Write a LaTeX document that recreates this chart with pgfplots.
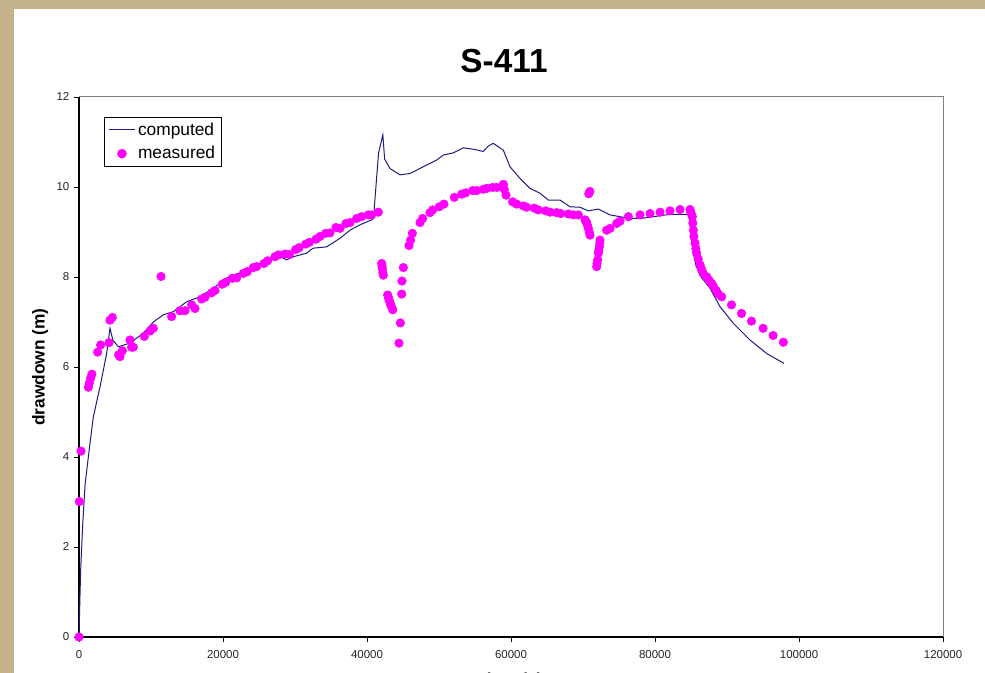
\documentclass[border=0pt]{standalone}
\usepackage{pgfplots}
\pgfplotsset{compat=1.18}
\usepackage{fontspec}
\setmainfont{Liberation Sans}
\definecolor{tanbg}{RGB}{196,178,140}
\definecolor{navyline}{RGB}{30,30,130}
\definecolor{magdot}{RGB}{255,0,255}
\pgfplotsset{
  lineleg/.style={legend image code/.code={\draw[##1] (0cm,0cm) -- (0.68cm,0cm);}},
  dotleg/.style={legend image code/.code={\draw[mark repeat=2, mark phase=2, ##1] plot coordinates {(0cm,0cm) (0.34cm,0cm) (0.68cm,0cm)};}},
}
\begin{document}
\begin{tikzpicture}
\path[use as bounding box, clip] (0,0) rectangle (738.75pt,504.75pt);
\fill[tanbg] (0,0) rectangle (738.75pt,504.75pt);
\fill[white] (10.5pt,0) rectangle (738.75pt,498pt);
\node[font=\bfseries\fontsize{25}{30}\selectfont, inner sep=0pt, anchor=base] at (378pt,450pt) {S-411};
\begin{axis}[
  at={(59.25pt,27pt)}, anchor=south west,
  scale only axis, width=648pt, height=405pt,
  xmin=0, xmax=120000, ymin=0, ymax=12,
  xtick={0,20000,...,120000}, ytick={0,2,...,12},
  scaled x ticks=false,
  /pgf/number format/.cd, fixed, set thousands separator={}, assume math mode=true,
  /pgfplots/.cd,
  tick pos=left, tick align=outside, major tick length=3.75pt,
  tick style={black, line width=0.6pt},
  ticklabel style={font=\fontsize{8.6}{10}\selectfont, text=black!85},
  xticklabel style={yshift=-2.5pt},
  axis line style={draw=gray, line width=0.75pt},
  clip=false,
  xlabel={time (s)}, ylabel={drawdown (m)},
  xlabel style={at={(rel axis cs:0.501,-0.0665)}, anchor=north, inner sep=0pt, font=\bfseries\fontsize{13}{15}\selectfont},
  ylabel style={at={(rel axis cs:-0.0451,0.5)}, anchor=center, inner sep=0pt, font=\bfseries\fontsize{13}{15}\selectfont},
  legend style={at={(0.029,0.963)}, anchor=north west, draw=black, line width=0.75pt,
    font=\fontsize{13}{15.6}\selectfont, inner xsep=3pt, inner ysep=1.8pt, row sep=3pt,
    cells={anchor=west}},
]
\draw[black, line width=1.1pt] (rel axis cs:0,1) -- (rel axis cs:0,0) -- (rel axis cs:1,0);
\addplot[navyline, line width=0.75pt, mark=none, lineleg] table {
x y
0 0
150 1.0
236 1.5
514 2.5
850 3.4
1530 4.31
1990 4.89
2920 5.56
3840 6.30
4306 6.86
4700 6.60
5460 6.45
7080 6.53
8930 6.75
10320 7.00
11710 7.16
13100 7.23
14950 7.45
16800 7.56
18650 7.75
20510 7.98
22360 8.09
24170 8.23
26070 8.34
27460 8.49
28840 8.38
29770 8.45
31620 8.53
32500 8.64
34400 8.67
36250 8.86
37640 9.04
39030 9.16
40650 9.27
40900 9.30
41600 10.75
42200 11.16
42450 10.62
43190 10.41
44580 10.27
45970 10.30
47820 10.45
49680 10.60
50600 10.71
52000 10.76
53380 10.87
54760 10.84
56150 10.79
56850 10.91
57540 10.97
58930 10.82
59860 10.45
61250 10.19
62640 9.97
64030 9.86
65180 9.71
66800 9.71
68190 9.56
69580 9.55
70740 9.47
72130 9.51
73750 9.38
75140 9.34
76530 9.30
78000 9.30
82000 9.39
84630 9.39
84800 9.40
85000 8.95
85300 8.55
85700 8.25
86300 8.02
87000 7.88
87640 7.75
89030 7.34
90880 6.97
93190 6.60
95510 6.30
97920 6.08
};
\addlegendentry{computed}
\addplot[only marks, mark=*, mark size=3.2pt, color=magdot, mark options={draw=magdot, fill=magdot}, dotleg] table {
x y
0 0
50 3.01
280 4.13
1300 5.55
1430 5.64
1620 5.75
1800 5.84
2590 6.33
3010 6.49
4170 6.54
4306 7.04
4630 7.10
5510 6.27
5690 6.23
6020 6.36
7080 6.60
7310 6.44
7540 6.44
9070 6.68
9860 6.80
10320 6.86
11390 8.01
12870 7.12
14030 7.25
14720 7.25
15650 7.38
16110 7.30
17040 7.51
17500 7.55
18430 7.65
18890 7.70
19900 7.84
20370 7.88
21300 7.97
21900 7.98
22820 8.08
23380 8.12
24210 8.21
24680 8.23
25690 8.30
26200 8.36
27220 8.45
27690 8.49
28610 8.51
29210 8.50
30090 8.61
30560 8.65
31480 8.73
31990 8.77
32920 8.84
33470 8.90
34260 8.97
34860 8.98
35690 9.10
36250 9.08
37080 9.19
37640 9.21
38570 9.30
39260 9.34
40180 9.38
40650 9.38
41570 9.44
42040 8.30
42090 8.25
42130 8.19
42200 8.10
42270 8.04
42870 7.60
42960 7.55
43060 7.49
43180 7.44
43290 7.38
43430 7.33
43570 7.27
44440 6.53
44630 6.98
44820 7.62
44860 7.91
45050 8.21
45830 8.70
46060 8.82
46300 8.97
47360 9.21
47730 9.30
48750 9.43
49120 9.49
50040 9.56
50690 9.62
52130 9.77
53150 9.84
53700 9.87
54680 9.92
55230 9.92
56150 9.95
56620 9.97
57450 9.99
58010 9.99
58930 10.06
59070 9.95
59310 9.82
60230 9.67
60790 9.62
61710 9.58
62170 9.55
63240 9.53
63790 9.49
64810 9.47
65420 9.44
66340 9.43
66900 9.41
67960 9.40
68660 9.38
69350 9.38
70280 9.27
70400 9.24
70510 9.21
70620 9.15
70740 9.08
70860 9.00
70970 8.93
70800 9.85
70950 9.90
71900 8.23
71950 8.30
72040 8.38
72130 8.53
72200 8.60
72270 8.67
72320 8.75
72360 8.82
73290 9.04
73750 9.08
74680 9.19
75140 9.24
76300 9.34
77920 9.38
79310 9.41
80700 9.44
82080 9.47
83470 9.50
84860 9.50
84950 9.45
85100 9.38
85180 9.34
85250 9.20
85320 9.04
85400 8.90
85560 8.75
85680 8.63
85790 8.53
86000 8.40
86250 8.27
86450 8.18
86710 8.08
87200 8.00
87500 7.93
87870 7.86
88100 7.80
88500 7.70
88800 7.62
89260 7.56
90630 7.38
92010 7.19
93400 7.02
95010 6.86
96400 6.70
97820 6.55
};
\addlegendentry{measured}
\end{axis}
\end{tikzpicture}
\end{document}
